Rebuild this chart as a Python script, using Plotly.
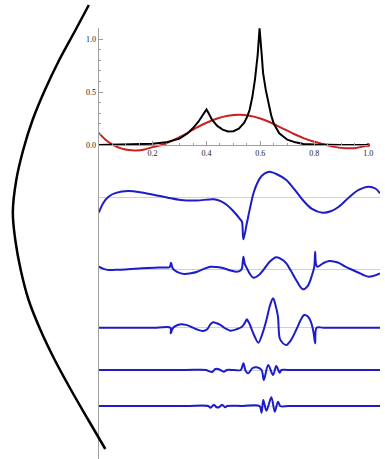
import plotly.graph_objects as go

# ---------------- data ----------------
black_t = [0.00, 0.10, 0.20, 0.25, 0.30, 0.33, 0.35, 0.37, 0.39, 0.40, 0.41, 0.42, 0.44,
           0.46, 0.48, 0.49, 0.50, 0.52, 0.54, 0.55, 0.56, 0.57, 0.58, 0.59, 0.597,
           0.605, 0.61, 0.62, 0.63, 0.64, 0.65, 0.67, 0.70, 0.73, 0.76, 0.80, 0.90, 1.00]
black_v = [0.000, 0.003, 0.012, 0.025, 0.060, 0.110, 0.160, 0.220, 0.290, 0.335, 0.290, 0.240, 0.180,
           0.145, 0.128, 0.126, 0.130, 0.155, 0.210, 0.260, 0.330, 0.450, 0.620, 0.850, 1.100,
           0.850, 0.680, 0.520, 0.380, 0.280, 0.200, 0.110, 0.050, 0.025, 0.010, 0.004, 0.000, 0.000]

red_t = [0.00, 0.03, 0.055, 0.08, 0.11, 0.14, 0.17, 0.20, 0.24, 0.28, 0.32, 0.36, 0.40, 0.44,
         0.48, 0.52, 0.56, 0.60, 0.64, 0.68, 0.72, 0.76, 0.80, 0.84, 0.88, 0.92, 0.95, 0.98, 1.00]
red_v = [0.115, 0.040, 0.000, -0.030, -0.048, -0.052, -0.042, -0.020, 0.005, 0.050, 0.100, 0.160,
         0.210, 0.250, 0.275, 0.285, 0.275, 0.250, 0.210, 0.160, 0.110, 0.065, 0.030, 0.005,
         -0.020, -0.030, -0.030, -0.015, 0.000]

row1_u = [0.000, 0.017, 0.034, 0.060, 0.103, 0.150, 0.194, 0.240, 0.285, 0.340, 0.400, 0.425,
          0.445, 0.465, 0.479, 0.491, 0.497, 0.502, 0.514, 0.525, 0.537, 0.548, 0.559, 0.575,
          0.593, 0.620, 0.651, 0.680, 0.708, 0.740, 0.776, 0.805, 0.833, 0.870, 0.902, 0.936,
          0.960, 0.976]
row1_v = [-0.375, -0.12, 0.025, 0.12, 0.168, 0.13, 0.068, 0.0, -0.058, -0.07, -0.04, -0.09,
          -0.183, -0.32, -0.433, -0.54, -0.60, -1.04, -0.64, -0.26, 0.11, 0.33, 0.485, 0.60,
          0.65, 0.58, 0.443, 0.20, -0.058, -0.28, -0.375, -0.34, -0.225, 0.02, 0.193, 0.275,
          0.23, 0.11]

row2_u = [0.000, 0.017, 0.034, 0.070, 0.103, 0.150, 0.194, 0.230, 0.246, 0.251, 0.256, 0.262,
          0.280, 0.297, 0.320, 0.342, 0.365, 0.388, 0.410, 0.434, 0.458, 0.479, 0.492, 0.497,
          0.502, 0.507, 0.514, 0.525, 0.537, 0.555, 0.571, 0.595, 0.616, 0.635, 0.651, 0.668,
          0.685, 0.708, 0.725, 0.740, 0.748, 0.751, 0.754, 0.759, 0.778, 0.799, 0.830, 0.856,
          0.900, 0.936, 0.976]
row2_v = [0.065, 0.01, -0.018, -0.01, 0.0, 0.025, 0.04, 0.048, 0.05, 0.165, 0.03, -0.018,
          -0.09, -0.118, -0.10, -0.06, 0.01, 0.065, 0.055, 0.025, -0.03, -0.06, -0.03, 0.025,
          0.315, 0.13, 0.03, -0.12, -0.21, -0.15, -0.018, 0.20, 0.30, 0.25, 0.15, -0.05,
          -0.268, -0.50, -0.42, -0.15, 0.065, 0.44, 0.13, 0.065, 0.15, 0.208, 0.17, 0.065,
          -0.08, -0.185, -0.10]

row3_u = [0.000, 0.200, 0.249, 0.250, 0.256, 0.263, 0.285, 0.303, 0.320, 0.340, 0.360, 0.372,
          0.379, 0.388, 0.397, 0.410, 0.422, 0.440, 0.457, 0.478, 0.497, 0.507, 0.514, 0.520,
          0.525, 0.540, 0.554, 0.568, 0.582, 0.594, 0.605, 0.614, 0.622, 0.628, 0.638, 0.651,
          0.668, 0.685, 0.700, 0.713, 0.726, 0.736, 0.745, 0.751, 0.756, 0.780, 0.976]
row3_v = [0.0, 0.0, 0.0, -0.14, -0.03, 0.025, 0.085, 0.07, 0.025, -0.04, -0.083, -0.06,
          -0.015, 0.09, 0.135, 0.11, 0.068, -0.02, -0.075, -0.04, 0.025, 0.12, 0.21, 0.14,
          0.068, -0.20, -0.375, -0.15, 0.193, 0.55, 0.735, 0.55, 0.275, -0.265, -0.38, -0.433,
          -0.30, -0.058, 0.18, 0.318, 0.28, 0.15, -0.10, -0.39, 0.0, 0.0, 0.0]

row4_u = [0.000, 0.300, 0.373, 0.379, 0.394, 0.405, 0.417, 0.434, 0.445, 0.470, 0.493, 0.502,
          0.510, 0.519, 0.534, 0.548, 0.565, 0.573, 0.588, 0.605, 0.616, 0.628, 0.634, 0.660,
          0.976]
row4_v = [0.0, 0.0, 0.0, -0.018, -0.05, 0.025, 0.018, -0.043, 0.0, 0.0, 0.0, 0.168,
          -0.025, -0.083, 0.05, 0.068, 0.0, -0.25, 0.125, -0.125, 0.10, -0.068, 0.0, 0.0,
          0.0]

row5_u = [0.000, 0.300, 0.380, 0.388, 0.400, 0.408, 0.417, 0.428, 0.439, 0.445, 0.500, 0.558,
          0.565, 0.571, 0.582, 0.599, 0.611, 0.622, 0.630, 0.660, 0.976]
row5_v = [0.0, 0.0, 0.0, -0.043, 0.033, -0.025, -0.033, 0.033, -0.033, 0.0, 0.0, 0.0,
          -0.168, 0.15, -0.118, 0.218, -0.143, 0.108, 0.0, 0.0, 0.0]

scale_x = [90.0, 76.5, 60.0, 45.5, 33.0, 23.5, 16.5, 13.0, 15.5, 21.0, 29.0, 41.0, 55.5, 72.0, 89.5, 106.7]
scale_y = [5, 30, 60, 90, 120, 150, 180, 212, 240, 270, 300, 330, 360, 390, 420, 449]

x_ticks = [0.2, 0.4, 0.6, 0.8, 1.0]
x_tick_text = ["0.2", "0.4", "0.6", "0.8", "1.0"]
x_minor_ticks = [0.05, 0.1, 0.15, 0.25, 0.3, 0.35, 0.45, 0.5, 0.55, 0.65, 0.7, 0.75, 0.85, 0.9, 0.95]
y_ticks = [0.0, 0.5, 1.0]
y_tick_text = ["0.0", "0.5", "1.0"]
y_minor_ticks = [0.1, 0.2, 0.3, 0.4, 0.6, 0.7, 0.8, 0.9]

# ---------------- layout constants ----------------
W, H = 385, 459
BLUE = "#1c1cc8"
RED = "#cc2020"
AX = "#a0a0a0"
FONT = dict(family="Liberation Serif, Times New Roman, serif", size=8, color="#222")

x_left, x_right_top = 100, 373
zero_px, unit_px = 145, 106
top_px = [28, 156]
row_base_px = [197.7, 269.3, 327.7, 370, 406]
row_bounds_px = [156, 245, 294, 352, 388, 459]
row_scale = 40.0

def frac(px):
    return 1 - px / H

fig = go.Figure()

fig.add_trace(go.Scatter(x=scale_x, y=scale_y, xaxis="x3", yaxis="y7", mode="lines",
                         line=dict(color="black", width=2.5, shape="spline"), hoverinfo="skip"))

rows = [(row1_u, row1_v), (row2_u, row2_v), (row3_u, row3_v), (row4_u, row4_v), (row5_u, row5_v)]
for i, (u, v) in enumerate(rows):
    fig.add_trace(go.Scatter(x=u, y=v, xaxis="x2", yaxis=f"y{i+2}", mode="lines",
                             line=dict(color=BLUE, width=2, shape="spline", smoothing=0.9),
                             hoverinfo="skip"))

fig.add_trace(go.Scatter(x=red_t, y=red_v, xaxis="x", yaxis="y", mode="lines",
                         line=dict(color=RED, width=2, shape="spline"), hoverinfo="skip"))
fig.add_trace(go.Scatter(x=red_t[-1:], y=red_v[-1:], xaxis="x", yaxis="y", mode="markers",
                         marker=dict(size=4, color=RED), cliponaxis=False, hoverinfo="skip"))
fig.add_trace(go.Scatter(x=black_t, y=black_v, xaxis="x", yaxis="y", mode="lines",
                         line=dict(color="black", width=2), hoverinfo="skip"))

CLEAR = "rgba(0,0,0,0)"
layout = dict(
    width=W, height=H, margin=dict(l=0, r=0, t=0, b=0),
    paper_bgcolor="white", plot_bgcolor=CLEAR, showlegend=False,
    xaxis=dict(domain=[x_left / W, x_right_top / W], range=[0, 1], anchor="free",
               position=frac(zero_px), tickvals=x_ticks, ticktext=x_tick_text,
               ticks="inside", ticklen=4, tickcolor=AX, tickwidth=1, showline=True, linecolor=AX,
               linewidth=1, showgrid=False, zeroline=False, tickfont=FONT,
               minor=dict(tickvals=x_minor_ticks, ticks="inside", ticklen=2, tickcolor=AX,
                          showgrid=False)),
    yaxis=dict(domain=[frac(top_px[1]), frac(top_px[0])], anchor="x",
               range=[(zero_px - top_px[1]) / unit_px, (zero_px - top_px[0]) / unit_px],
               tickvals=y_ticks, ticktext=y_tick_text, ticks="inside", ticklen=4, tickcolor=AX,
               showline=True, linecolor=AX, linewidth=1, showgrid=False, zeroline=False,
               tickfont=FONT,
               minor=dict(tickvals=y_minor_ticks, ticks="inside", ticklen=2, tickcolor=AX,
                          showgrid=False)),
    xaxis2=dict(domain=[x_left / W, 1], range=[0, 0.976], anchor="y6", visible=False),
    xaxis3=dict(domain=[0, 0.3], range=[0, 0.3 * W], anchor="y7", visible=False),
    yaxis7=dict(domain=[0, 1], range=[H, 0], anchor="x3", visible=False),
)
for i, b in enumerate(row_base_px):
    t, bt = row_bounds_px[i], row_bounds_px[i + 1]
    layout[f"yaxis{i+2}"] = dict(
        domain=[frac(bt), frac(t)], range=[-(bt - b) / row_scale, (b - t) / row_scale],
        anchor="x2", showticklabels=False, ticks="", showgrid=False, showline=True,
        linecolor=AX, linewidth=1, zeroline=True, zerolinecolor="#d0d0d0", zerolinewidth=1)

fig.update_layout(**layout)
fig.write_html("out.html")
